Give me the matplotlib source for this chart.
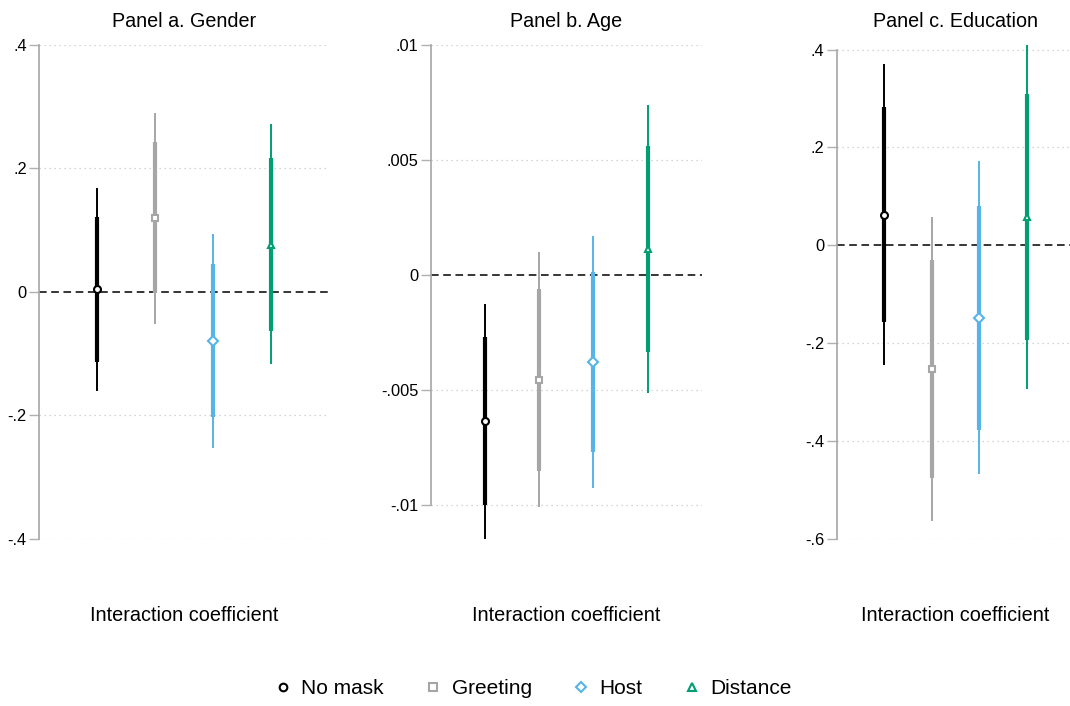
import numpy as np
import matplotlib
matplotlib.use('Agg')
import matplotlib.pyplot as plt
from matplotlib.lines import Line2D
from matplotlib.ticker import FuncFormatter

plt.rcParams['font.family'] = ['Liberation Sans', 'DejaVu Sans']

W, H = 1070, 706

series = ['No mask', 'Greeting', 'Host', 'Distance']
colors = ['#000000', '#a6a6a6', '#56b4e9', '#009e73']
markers = ['o', 's', 'D', '^']

titles = ['Panel a. Gender', 'Panel b. Age', 'Panel c. Education']

# point estimates and confidence bounds (inner = thick, outer = thin)
gender_est = [0.004, 0.119, -0.079, 0.076]
gender_lo_in = [-0.114, -0.002, -0.203, -0.063]
gender_hi_in = [0.121, 0.242, 0.045, 0.216]
gender_lo_out = [-0.161, -0.052, -0.252, -0.117]
gender_hi_out = [0.168, 0.290, 0.094, 0.271]

age_est = [-0.00637, -0.00459, -0.00379, 0.00112]
age_lo_in = [-0.01003, -0.00855, -0.00771, -0.00337]
age_hi_in = [-0.00273, -0.00061, 0.0001, 0.00559]
age_lo_out = [-0.0115, -0.0101, -0.00926, -0.00514]
age_hi_out = [-0.00128, 0.00097, 0.00167, 0.00736]

educ_est = [0.063, -0.253, -0.148, 0.058]
educ_lo_in = [-0.157, -0.476, -0.377, -0.193]
educ_hi_in = [0.283, -0.029, 0.081, 0.310]
educ_lo_out = [-0.244, -0.563, -0.468, -0.293]
educ_hi_out = [0.370, 0.058, 0.172, 0.409]

panels = [
    (gender_est, gender_lo_in, gender_hi_in, gender_lo_out, gender_hi_out),
    (age_est, age_lo_in, age_hi_in, age_lo_out, age_hi_out),
    (educ_est, educ_lo_in, educ_hi_in, educ_lo_out, educ_hi_out),
]
yticks = [[-0.4, -0.2, 0, 0.2, 0.4],
          [-0.01, -0.005, 0, 0.005, 0.01],
          [-0.6, -0.4, -0.2, 0, 0.2, 0.4]]
ylims = [(-0.4, 0.4), (-0.0115, 0.01), (-0.6, 0.41)]

# axes boxes in pixels: left, right, top, bottom
boxes = [(39.3, 329, 44.7, 539), (430.7, 701.7, 44.7, 539), (836.7, 1074, 44.7, 539)]


def stata_fmt(v, pos):
    if abs(v) < 1e-12:
        return '0'
    s = '%g' % v
    return s.replace('0.', '.')


fig = plt.figure(figsize=(W / 100, H / 100), dpi=100)

for k, (est, lo_in, hi_in, lo_out, hi_out) in enumerate(panels):
    l, r, t, b = boxes[k]
    ax = fig.add_axes([l / W, (H - b) / H, (r - l) / W, (b - t) / H])
    ax.set_xlim(0, 5)
    ax.set_ylim(*ylims[k])

    for yt in yticks[k]:
        if yt != 0:
            ax.axhline(yt, color='#c8c8c8', lw=0.9, ls=(0, (1, 3)), zorder=0)
    ax.axhline(0, color='black', lw=1.1, ls=(0, (5, 3)), zorder=1)

    for i in range(4):
        xpos = i + 1
        ax.plot([xpos, xpos], [lo_out[i], hi_out[i]], color=colors[i], lw=1.4,
                solid_capstyle='butt', zorder=2)
        ax.plot([xpos, xpos], [lo_in[i], hi_in[i]], color=colors[i], lw=3.0,
                solid_capstyle='butt', zorder=3)
        ax.plot([xpos], [est[i]], marker=markers[i], color=colors[i],
                markerfacecolor='white', markeredgewidth=1.5, markersize=5.0, zorder=4)

    for side in ['top', 'right', 'bottom']:
        ax.spines[side].set_visible(False)
    ax.spines['left'].set_color('#a6a6a6')
    ax.spines['left'].set_linewidth(1.2)
    ax.spines['left'].set_bounds(yticks[k][0], yticks[k][-1])
    ax.set_yticks(yticks[k])
    ax.yaxis.set_major_formatter(FuncFormatter(stata_fmt))
    ax.tick_params(axis='y', length=7, width=1.0, color='#b0b0b0', labelsize=11.8, pad=2)
    ax.set_xticks([])
    ax.set_title(titles[k], fontsize=14.2, pad=13)
    ax.set_xlabel('Interaction coefficient', fontsize=14.3, labelpad=48)

handles = [Line2D([], [], ls='none', marker=markers[i], color=colors[i],
                  markerfacecolor='white', markeredgewidth=1.5, markersize=5.5)
           for i in range(4)]
fig.legend(handles, series, loc='center', bbox_to_anchor=(533 / W, (H - 689) / H),
           ncol=4, frameon=False, fontsize=15, handlelength=0.8, handletextpad=0.5,
           columnspacing=1.95)

fig.savefig('out.png', dpi=100, facecolor='white')
